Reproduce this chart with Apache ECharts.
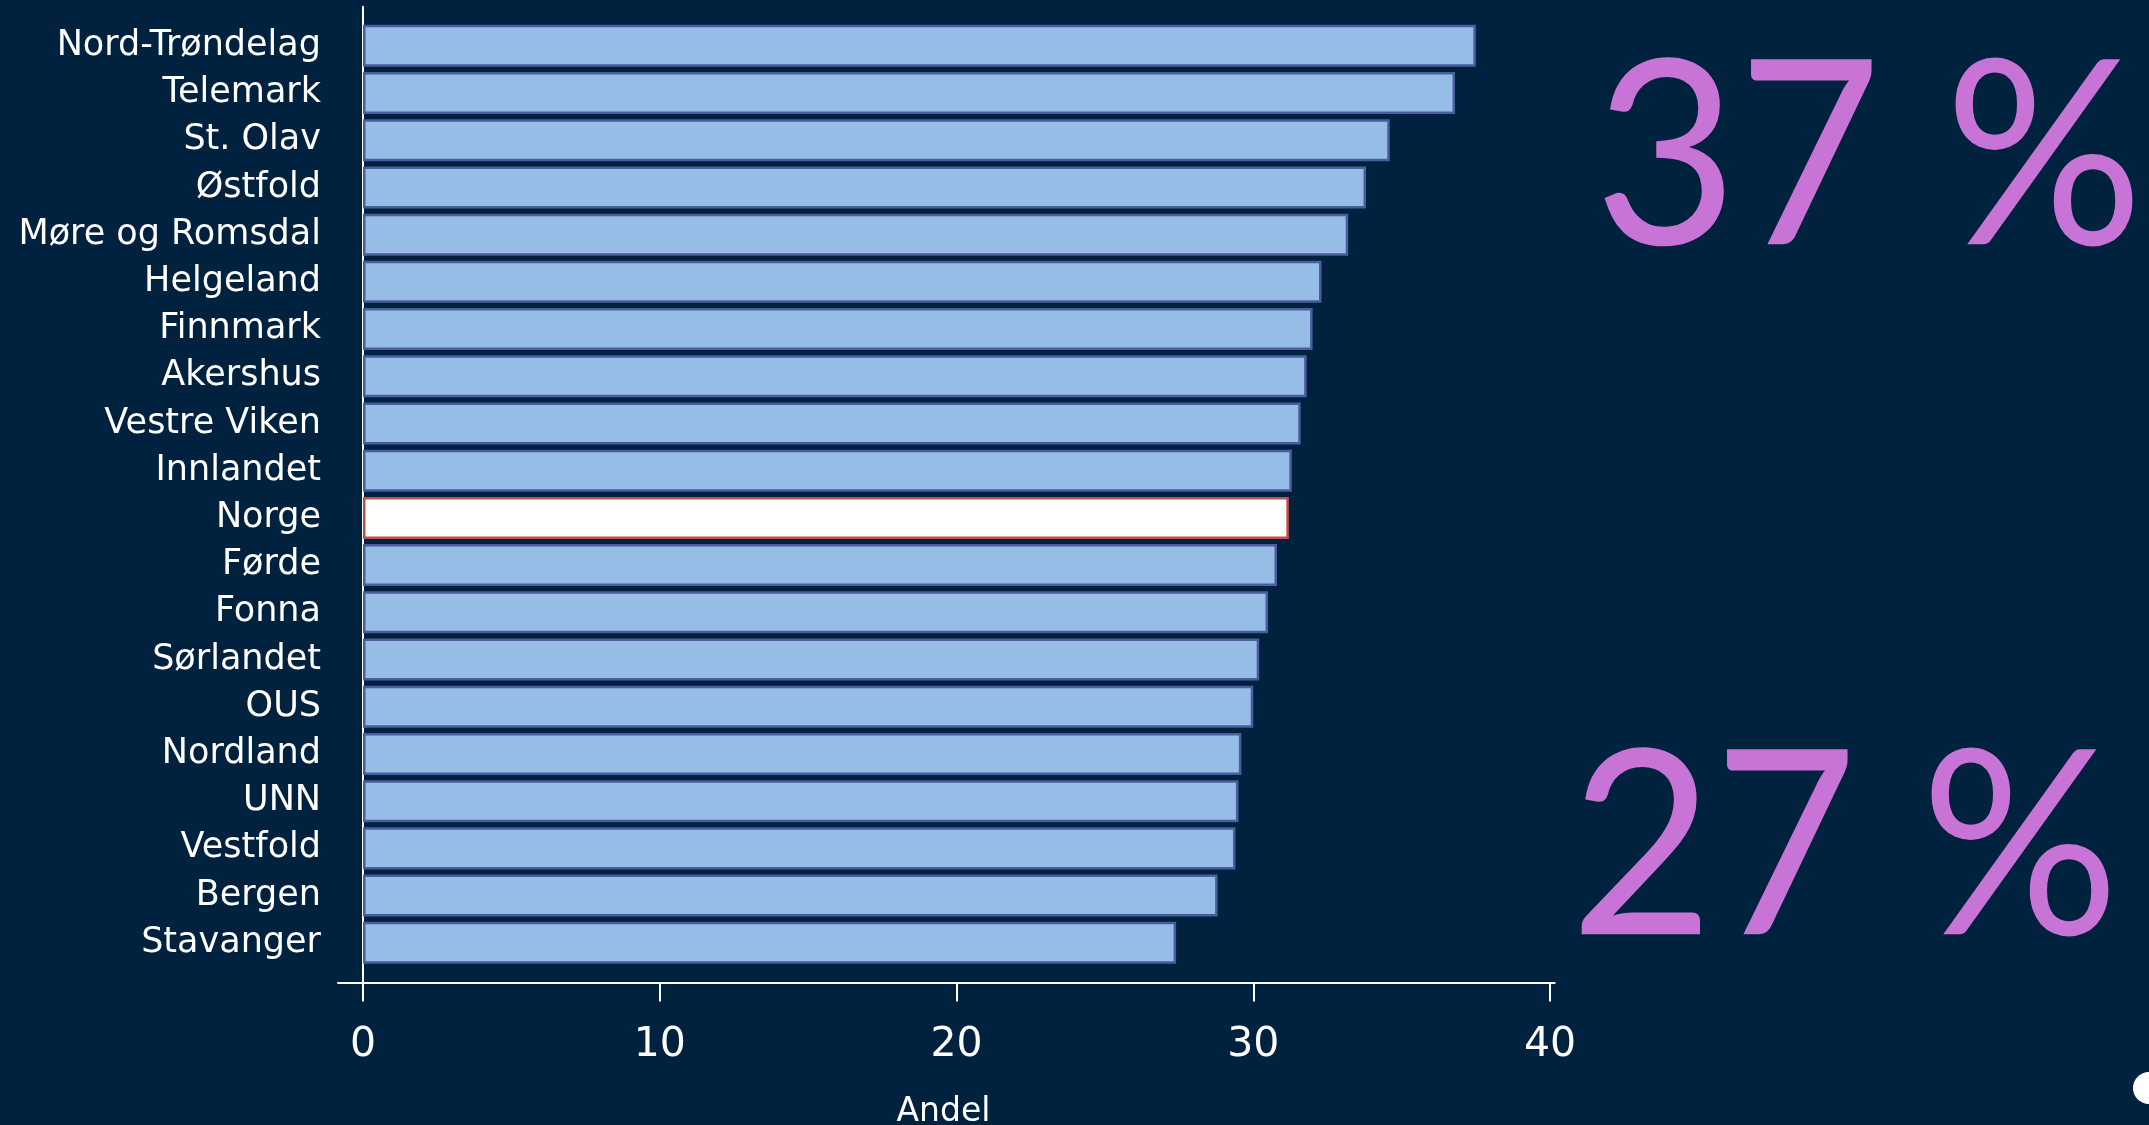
<!DOCTYPE html>
<html>
<head>
<meta charset="utf-8">
<script src="https://cdn.jsdelivr.net/npm/echarts@6/dist/echarts.min.js"></script>
<style>
html,body{margin:0;padding:0;background:#00223F;}
#chart{width:2149px;height:1125px;}
</style>
</head>
<body>
<div id="chart"></div>
<script>
const categories = ['Nord-Trøndelag','Telemark','St. Olav','Østfold','Møre og Romsdal','Helgeland','Finnmark','Akershus','Vestre Viken','Innlandet','Norge','Førde','Fonna','Sørlandet','OUS','Nordland','UNN','Vestfold','Bergen','Stavanger'];
const values = [37.5,36.8,34.6,33.8,33.2,32.3,32.0,31.8,31.6,31.3,31.2,30.8,30.5,30.2,30.0,29.6,29.5,29.4,28.8,27.4];
const highlightCategory = 'Norge';
const xTicks = [0,10,20,30,40];
const axisName = 'Andel';
const bigTexts = ['37 %','27 %'];

const chart = echarts.init(document.getElementById('chart'));
const white = '#FFFFFF';
const seriesData = values.map((v,i)=> categories[i]===highlightCategory
  ? {value:v, itemStyle:{color:'#FFFFFF', borderColor:'#C0504D'}}
  : v);

chart.setOption({
  backgroundColor:'#00223F',
  animation:false,
  grid:[
    {left:363, right:599, top:22.2, bottom:158.6, containLabel:false, outerBoundsMode:'none'},
    {left:338, right:594.4, top:6.7, bottom:142.3, containLabel:false, outerBoundsMode:'none'},
    {left:363, right:599, top:6.7, bottom:142.3, containLabel:false, outerBoundsMode:'none'}
  ],
  xAxis:[
    {gridIndex:0, type:'value', min:xTicks[0], max:xTicks[xTicks.length-1], interval:10,
     offset:16.2,
     axisLine:{show:false},
     axisTick:{show:true, length:19, lineStyle:{color:white, width:2}},
     axisLabel:{color:white, fontSize:41, fontFamily:'DejaVu Sans', margin:42},
     splitLine:{show:false},
     name:axisName, nameLocation:'middle', nameGap:113,
     nameTextStyle:{color:white, fontSize:33, fontFamily:'DejaVu Sans', padding:[0,26,0,0]}},
    {gridIndex:1, type:'value', min:0, max:1,
     axisLine:{show:true, lineStyle:{color:white, width:2}},
     axisTick:{show:false}, axisLabel:{show:false}, splitLine:{show:false}},
    {gridIndex:2, type:'value', min:0, max:1, show:false}
  ],
  yAxis:[
    {gridIndex:0, type:'category', data:categories, inverse:true,
     axisLine:{show:false}, axisTick:{show:false},
     axisLabel:{color:white, fontSize:35, fontFamily:'DejaVu Sans', margin:42}},
    {gridIndex:1, type:'value', min:0, max:1, show:false},
    {gridIndex:2, type:'value', min:0, max:1,
     axisLine:{show:true, lineStyle:{color:white, width:2}},
     axisTick:{show:false}, axisLabel:{show:false}, splitLine:{show:false}}
  ],
  series:[{
    type:'bar', xAxisIndex:0, yAxisIndex:0,
    data:seriesData,
    barCategoryGap:'11%',
    itemStyle:{color:'#95BDE6', borderColor:'#4A5E9E', borderWidth:2.5}
  }],
  graphic:[
    {type:'text', x:1594, y:161, scaleX:0.96, style:{text:bigTexts[0], fill:'#C873D6', fontSize:258, fontFamily:'Lato', fontWeight:'normal', textAlign:'left', verticalAlign:'middle'}},
    {type:'text', x:1570, y:851, scaleX:0.96, style:{text:bigTexts[1], fill:'#C873D6', fontSize:258, fontFamily:'Lato', fontWeight:'normal', textAlign:'left', verticalAlign:'middle'}},
    {type:'circle', shape:{cx:2149, cy:1088, r:16}, style:{fill:'#FFFFFF'}}
  ]
});
</script>
</body>
</html>
